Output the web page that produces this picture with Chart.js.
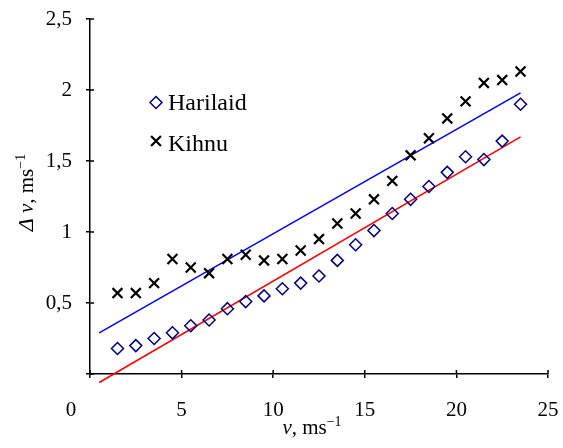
<!DOCTYPE html>
<html>
<head>
<meta charset="utf-8">
<script src="https://cdn.jsdelivr.net/npm/chart.js@4/dist/chart.umd.min.js"></script>
<style>
html,body{margin:0;padding:0;background:#fff;}
#wrap{width:563px;height:448px;position:relative;}
</style>
</head>
<body>
<div id="wrap"><canvas id="c" width="563" height="448"></canvas></div>
<script>
// wind speed bins (ms^-1)
const windSpeed = [1.5,2.5,3.5,4.5,5.5,6.5,7.5,8.5,9.5,10.5,11.5,12.5,13.5,14.5,15.5,16.5,17.5,18.5,19.5,20.5,21.5,22.5,23.5];
// Δv values
const harilaid = [0.18,0.20,0.25,0.29,0.34,0.38,0.46,0.51,0.55,0.60,0.64,0.69,0.80,0.91,1.01,1.13,1.23,1.32,1.42,1.53,1.51,1.64,1.90];
const kihnu    = [0.57,0.57,0.64,0.81,0.75,0.71,0.81,0.84,0.80,0.81,0.87,0.95,1.06,1.13,1.23,1.36,1.54,1.66,1.80,1.92,2.05,2.07,2.13];
// linear trend lines (end points)
const trendX = [0.5, 23.5];
const kihnuTrend = [0.29, 1.98];
const harilaidTrend = [-0.06, 1.67];
// axis ticks
const xTicks = [0,5,10,15,20,25];
const yTicks = [0,0.5,1,1.5,2,2.5];
const seriesNames = ['Harilaid','Kihnu'];

const pts = (xs, ys) => xs.map((x,i)=>({x:x, y:ys[i]}));
const SERIF = '"Liberation Serif","Times New Roman",serif';

const extras = {
  id:'extras',
  afterDraw(chart){
    const ctx = chart.ctx, ca = chart.chartArea;
    const xs = chart.scales.x, ys = chart.scales.y;
    ctx.save();
    // inner halves of cross tick marks
    ctx.strokeStyle = '#000'; ctx.lineWidth = 1.5;
    ctx.beginPath();
    xTicks.forEach(v=>{ const p = xs.getPixelForValue(v); ctx.moveTo(p, ca.bottom); ctx.lineTo(p, ca.bottom-4); });
    yTicks.forEach(v=>{ const p = ys.getPixelForValue(v); ctx.moveTo(ca.left, p); ctx.lineTo(ca.left+4, p); });
    ctx.stroke();
    // "0" label of x axis (offset left, as in the original)
    ctx.fillStyle = '#000';
    ctx.font = '21px ' + SERIF;
    ctx.textAlign = 'center'; ctx.textBaseline = 'alphabetic';
    ctx.fillText('0', xs.getPixelForValue(0) - 19, 416);
    // x axis title: v, ms^-1
    const drawTitle = (cx, by) => {
      const parts = [
        {t:'v', f:'italic 21px '+SERIF, dy:0},
        {t:', ms', f:'21px '+SERIF, dy:0},
        {t:'\u22121', f:'14px '+SERIF, dy:-8}
      ];
      let w = 0;
      parts.forEach(p=>{ ctx.font = p.f; p.w = ctx.measureText(p.t).width; w += p.w; });
      let x = cx - w/2;
      ctx.textAlign = 'left';
      parts.forEach(p=>{ ctx.font = p.f; ctx.fillText(p.t, x, by + p.dy); x += p.w; });
    };
    drawTitle((ca.left+ca.right)/2 - 7, 434);
    // y axis title: Δv, ms^-1
    ctx.save();
    ctx.translate(33, (ca.top+ca.bottom)/2 - 4);
    ctx.rotate(-Math.PI/2);
    {
      const parts = [
        {t:'\u0394', f:'italic 22px '+SERIF, dy:0},
        {t:' v', f:'italic 21px '+SERIF, dy:0},
        {t:', ms', f:'21px '+SERIF, dy:0},
        {t:'\u22121', f:'14px '+SERIF, dy:-8}
      ];
      let w = 0;
      parts.forEach(p=>{ ctx.font = p.f; p.w = ctx.measureText(p.t).width; w += p.w; });
      let x = -w/2;
      ctx.textAlign = 'left';
      parts.forEach(p=>{ ctx.font = p.f; ctx.fillText(p.t, x, p.dy); x += p.w; });
    }
    ctx.restore();
    // legend
    const ds = chart.data.datasets;
    const items = [ds[0], ds[1]];
    const lx = 156, ly = [102.5, 141];
    items.forEach((d,i)=>{
      ctx.strokeStyle = d.pointBorderColor;
      ctx.fillStyle = 'rgba(0,0,0,0)';
      ctx.lineWidth = d.pointBorderWidth;
      Chart.helpers.drawPoint(ctx, {pointStyle:d.pointStyle, radius:d.pointRadius, borderWidth:d.pointBorderWidth, rotation:0}, lx, ly[i]);
      ctx.fillStyle = '#000';
      ctx.font = '24px ' + SERIF;
      ctx.textAlign = 'left'; ctx.textBaseline = 'alphabetic';
      ctx.fillText(d.label, 168, ly[i] + 7.5 + (i===1?2:0));
    });
    ctx.restore();
  }
};

new Chart(document.getElementById('c'), {
  type:'scatter',
  data:{
    datasets:[
      {label:seriesNames[0], data:pts(windSpeed, harilaid), pointStyle:'rectRot', pointRadius:6, pointBorderColor:'#000080', pointBackgroundColor:'rgba(0,0,0,0)', pointBorderWidth:1.5, showLine:false, clip:false, order:1},
      {label:seriesNames[1], data:pts(windSpeed, kihnu), pointStyle:'crossRot', pointRadius:7, pointBorderColor:'#000000', pointBackgroundColor:'#000', pointBorderWidth:2.2, showLine:false, clip:false, order:1},
      {label:'Kihnu trend', data:pts(trendX, kihnuTrend), showLine:true, borderColor:'#0000ff', borderWidth:1.5, pointRadius:0, clip:false, order:2},
      {label:'Harilaid trend', data:pts(trendX, harilaidTrend), showLine:true, borderColor:'#ff0000', borderWidth:1.5, pointRadius:0, clip:false, order:2}
    ]
  },
  options:{
    responsive:false, animation:false,
    layout:{padding:{top:19, right:15, left:0, bottom:0}},
    plugins:{legend:{display:false}, tooltip:{enabled:false}},
    scales:{
      x:{
        type:'linear', min:0, max:25,
        afterFit(s){ s.height = 74; s.paddingLeft = 0; s.paddingRight = 0; s.paddingTop = 0; s.paddingBottom = 0; },
        afterBuildTicks(s){ s.ticks = xTicks.map(v=>({value:v})); },
        ticks:{color:'#000', font:{family:SERIF, size:21}, padding:20, maxRotation:0,
          callback:v => v===0 ? '' : String(v)},
        grid:{display:true, drawOnChartArea:false, drawTicks:true, tickLength:4, color:'#000', lineWidth:1.5},
        border:{display:true, color:'#000', width:1.5}
      },
      y:{
        type:'linear', min:0, max:2.5,
        afterFit(s){ s.width = 90; s.paddingLeft = 0; s.paddingRight = 0; s.paddingTop = 0; s.paddingBottom = 0; },
        afterBuildTicks(s){ s.ticks = yTicks.map(v=>({value:v})); },
        ticks:{color:'#000', font:{family:SERIF, size:21}, padding:14,
          callback:v => v===0 ? '' : String(v).replace('.', ',')},
        grid:{display:true, drawOnChartArea:false, drawTicks:true, tickLength:4, color:'#000', lineWidth:1.5},
        border:{display:true, color:'#000', width:1.5}
      }
    }
  },
  plugins:[extras]
});
</script>
</body>
</html>
